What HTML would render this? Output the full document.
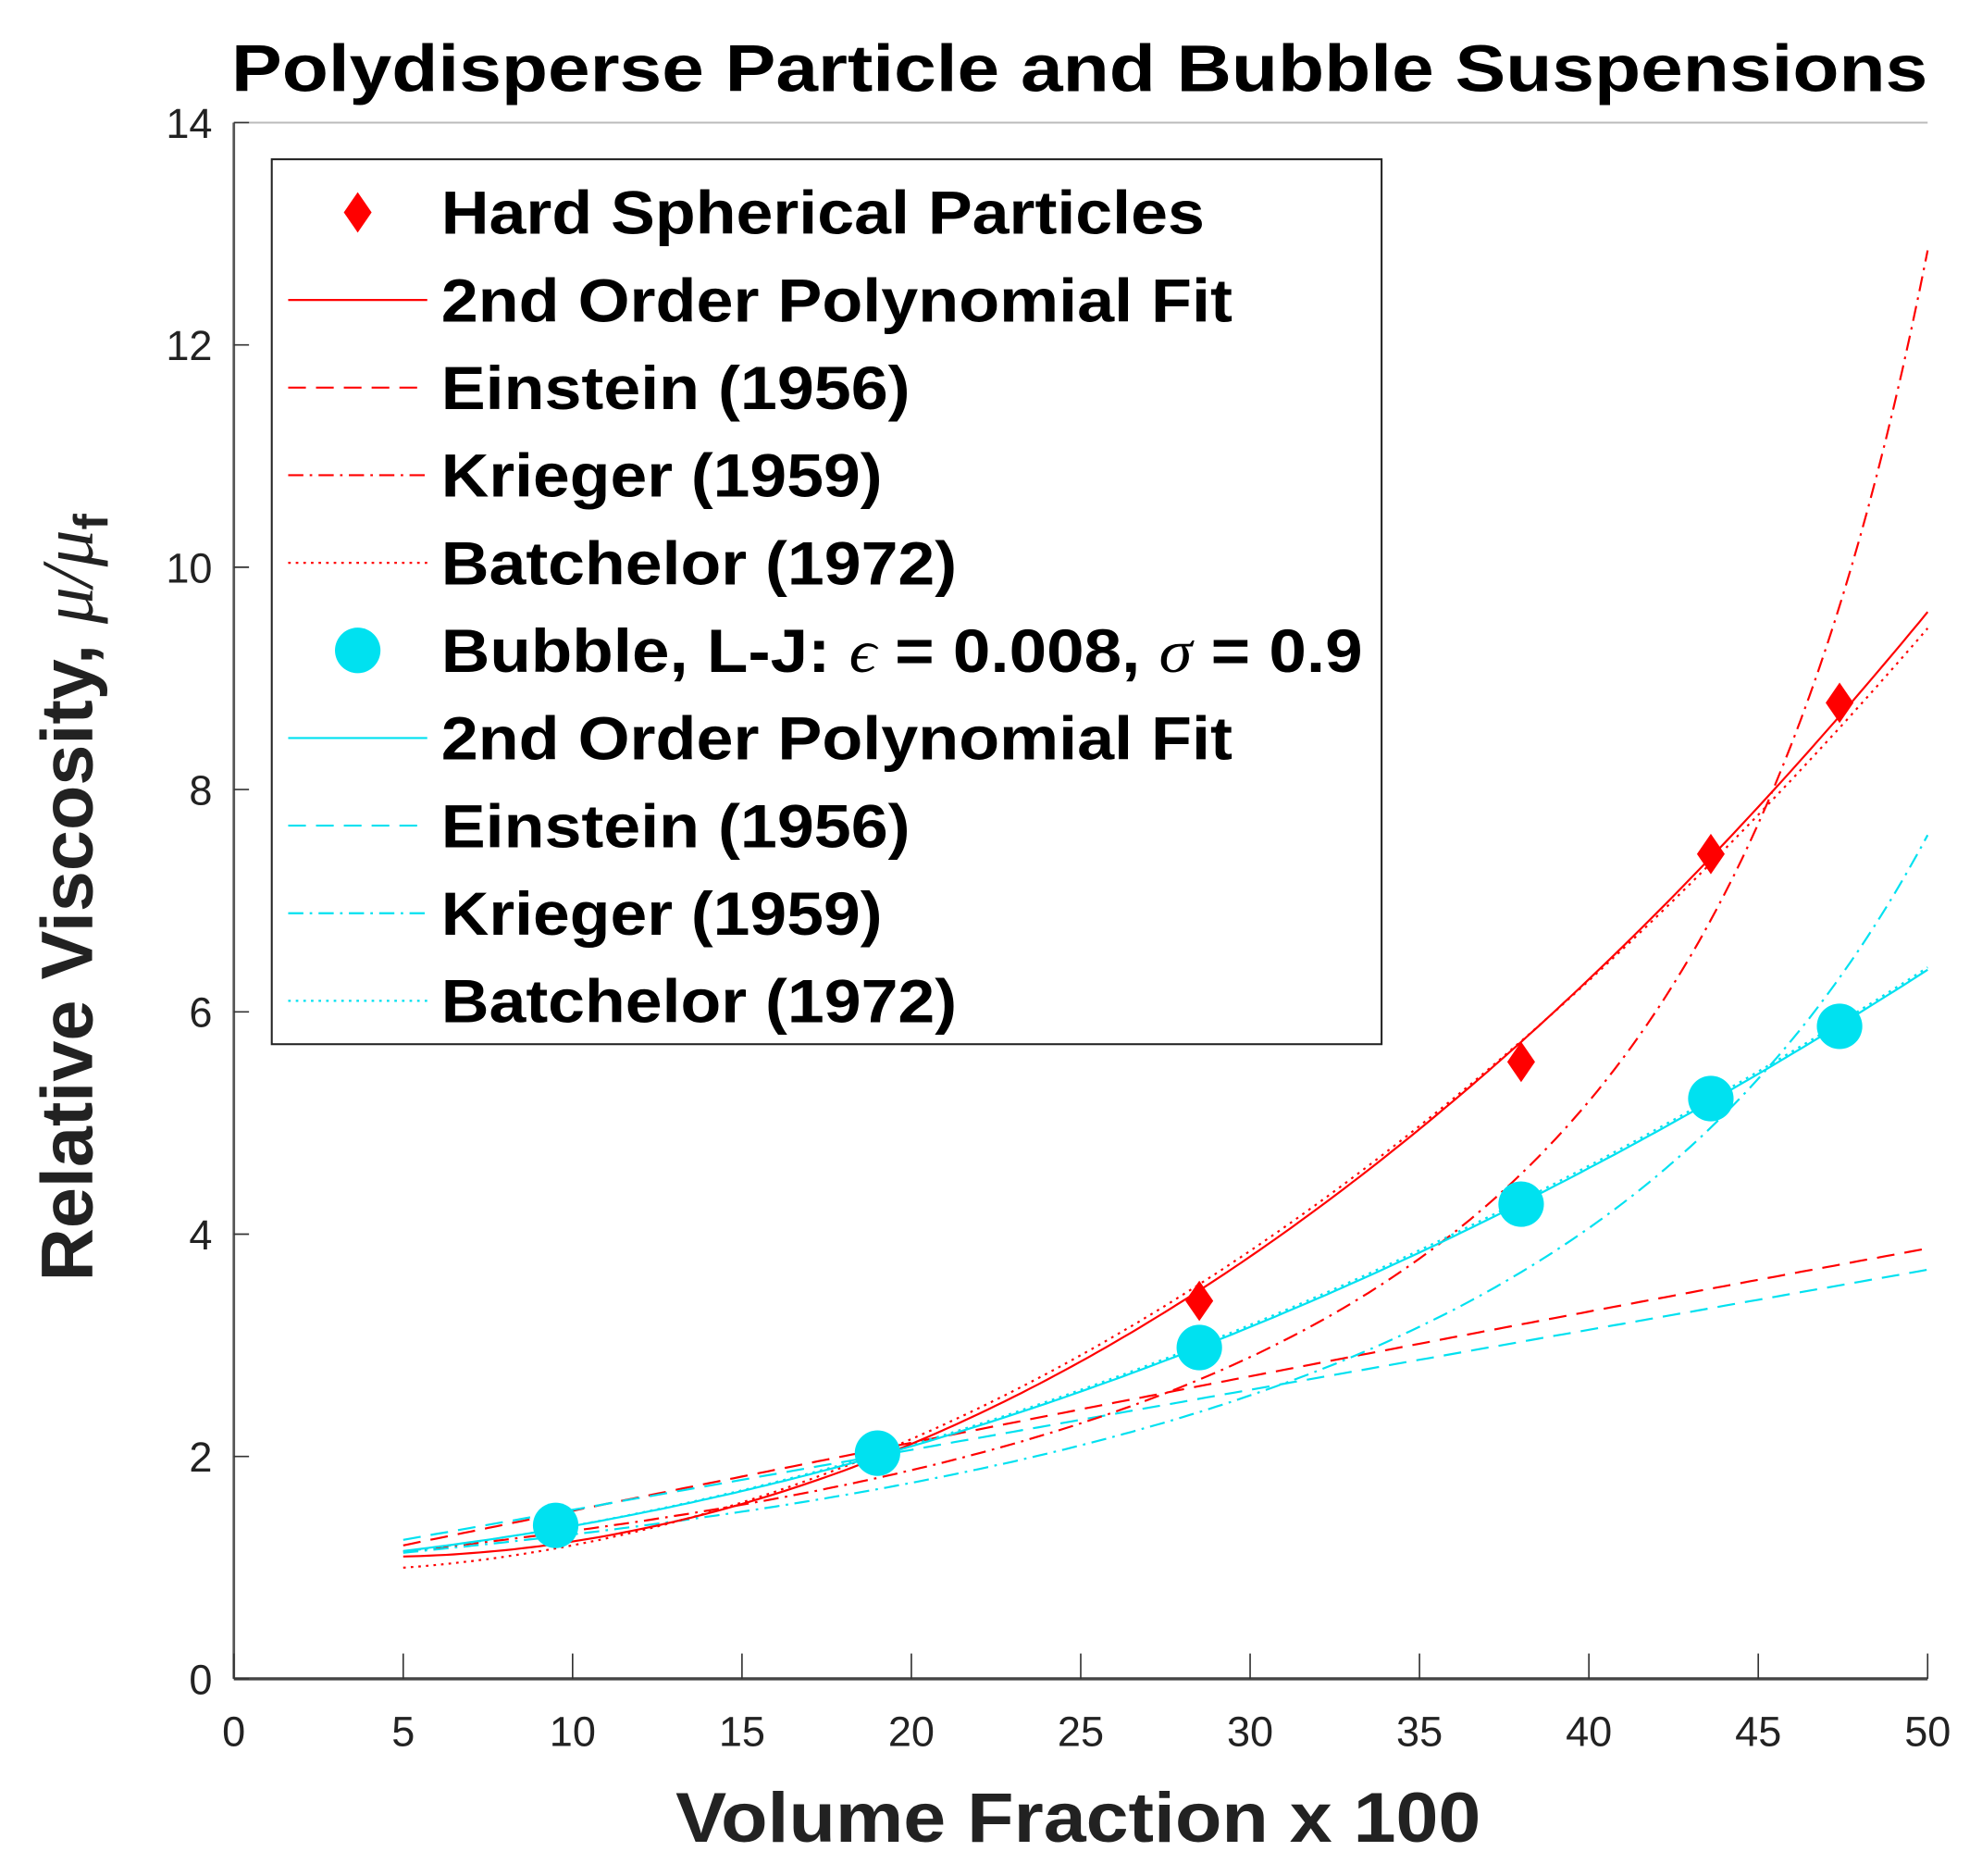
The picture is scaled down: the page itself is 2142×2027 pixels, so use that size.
<!DOCTYPE html>
<html><head><meta charset="utf-8"><style>
html,body{margin:0;padding:0;background:#fff;}
svg{display:block;}
text{font-family:"Liberation Sans",Arial,sans-serif;}
</style></head><body>
<svg id="s" width="2142" height="2027" viewBox="0 0 1568 1484" preserveAspectRatio="none" xmlns="http://www.w3.org/2000/svg">
<rect width="1568" height="1484" fill="#fff"/>
<text x="183" y="72" font-size="52" font-weight="bold" textLength="1342" lengthAdjust="spacingAndGlyphs">Polydisperse Particle and Bubble Suspensions</text>
<line x1="185" y1="97" x2="1525" y2="97" stroke="#bbb" stroke-width="1.5"/>
<line x1="185" y1="97" x2="185" y2="1328" stroke="#555" stroke-width="2"/>
<line x1="185" y1="1328" x2="1525" y2="1328" stroke="#444" stroke-width="2.5"/>
<g id="ticks" stroke="#333" stroke-width="1.2"></g>
<g id="labels" font-size="33" fill="#222"></g>
<g id="curves" fill="none" stroke-width="1.6"></g>
<g id="marks"></g>
<text x="853" y="1457" font-size="56" font-weight="bold" fill="#222" text-anchor="middle" textLength="637" lengthAdjust="spacingAndGlyphs">Volume Fraction x 100</text>
<text transform="translate(73,710) rotate(-90)" font-size="58" font-weight="bold" fill="#222" text-anchor="middle">Relative Viscosity, <tspan font-style="italic" font-weight="normal" font-family="Liberation Serif,serif">μ/μ</tspan><tspan font-size="38" dy="12">f</tspan></text>
<rect x="215" y="126" width="878" height="700" fill="#fff" stroke="#222" stroke-width="1.5"/>
<g id="leg" font-size="48" font-weight="bold"></g>
</svg>
<script>
const X=v=>185+v*26.8, Y=v=>1328-v*87.93;
const ns="http://www.w3.org/2000/svg";
function el(p,t,a,txt){const e=document.createElementNS(ns,t);for(const k in a)e.setAttribute(k,a[k]);if(txt!==undefined)e.textContent=txt;document.getElementById(p).appendChild(e);return e;}
for(let v=0;v<=50;v+=5){el("ticks","line",{x1:X(v),y1:1328,x2:X(v),y2:1308});el("labels","text",{x:X(v),y:1381,"text-anchor":"middle"},v);}
for(let v=0;v<=14;v+=2){el("ticks","line",{x1:185,y1:Y(v),x2:197,y2:Y(v)});el("labels","text",{x:168,y:Y(v)+12,"text-anchor":"end"},v);}
const R="#ff0000",C="#00e1f0";
function curve(f,col,dash){let d="";for(let x=5;x<=50.001;x+=0.25){d+=(d?"L":"M")+X(x).toFixed(1)+","+Y(f(x)).toFixed(1);}el("curves","path",{d:d,stroke:col,"stroke-dasharray":dash||"none"});}
const kd=(pm,k)=>x=>Math.pow(1-x/100/pm,-k);
curve(x=>0.885+0.0634*x-0.0000733*x*x,R,"14,8");
curve(x=>0.98+0.054*x,C,"14,8");
curve(kd(0.64,1.68),R,"12,5,2,5");
curve(kd(0.74,1.80),C,"12,5,2,5");
curve(x=>0.983-0.0151*x+0.003689*x*x,R,"2,4");
curve(x=>1.0+0.02*x+0.00176*x*x,C,"2,4");
curve(x=>1.167-0.0336*x+0.004044*x*x,R);
curve(x=>1.014+0.0183*x+0.00178*x*x,C);
function dia(cx,cy,p){el(p,"path",{d:`M${cx},${cy-16}L${cx+11},${cy}L${cx},${cy+16}L${cx-11},${cy}Z`,fill:R});}
[[9.5,1.35],[19,2.05],[28.5,3.4],[38,5.55],[43.6,7.42],[47.4,8.78]].forEach(p=>dia(X(p[0]),Y(p[1]),"marks"));
[[9.5,1.38],[19,2.03],[28.5,2.98],[38,4.27],[43.6,5.22],[47.4,5.87]].forEach(p=>el("marks","circle",{cx:X(p[0]),cy:Y(p[1]),r:18,fill:C}));
const rows=[["Hard Spherical Particles",R,"d",604],["2nd Order Polynomial Fit",R,"none",626],["Einstein (1956)",R,"14,8",371],["Krieger (1959)",R,"12,5,2,5",349],["Batchelor (1972)",R,"2,4",408],["Bubble",C,"c",729],["2nd Order Polynomial Fit",C,"none",626],["Einstein (1956)",C,"14,8",371],["Krieger (1959)",C,"12,5,2,5",349],["Batchelor (1972)",C,"2,4",408]];
rows.forEach((r,i)=>{const y=168+i*69.3;
 if(r[2]=="d")dia(283,y,"leg");else if(r[2]=="c")el("leg","circle",{cx:283,cy:y,r:18,fill:C});
 else el("leg","line",{x1:228,y1:y,x2:338,y2:y,stroke:r[1],"stroke-width":1.6,"stroke-dasharray":r[2]});
 if(i==5){const t=el("leg","text",{x:349,y:y+17,textLength:r[3],lengthAdjust:"spacingAndGlyphs"});t.innerHTML='Bubble, L-J: <tspan font-family="Liberation Serif,serif" font-style="italic" font-weight="normal">ϵ</tspan> = 0.008, <tspan font-family="Liberation Serif,serif" font-style="italic" font-weight="normal">σ</tspan> = 0.9';}
 else el("leg","text",{x:349,y:y+17,textLength:r[3],lengthAdjust:"spacingAndGlyphs"},r[0]);
});
</script>
</body></html>
